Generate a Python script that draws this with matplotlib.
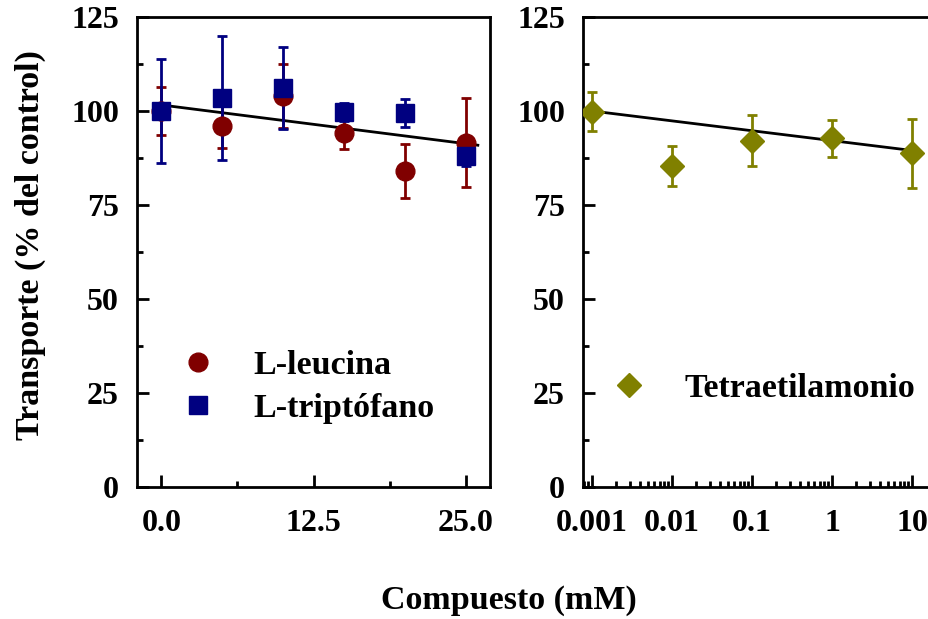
import numpy as np
import matplotlib
matplotlib.use("Agg")
import matplotlib.pyplot as plt
from matplotlib.ticker import MultipleLocator, FixedLocator, LogLocator, NullFormatter

plt.rcParams['font.family'] = ['Liberation Serif', 'DejaVu Serif']
plt.rcParams['font.weight'] = 'bold'

# amino acids (left panel)
conc_mm = [0, 5, 10, 15, 20, 25]
leu_mean = [100.0, 96.1, 104.0, 94.1, 84.0, 91.6]
leu_err = [6.5, 6.0, 8.4, 4.2, 7.2, 11.8]
trp_mean = [100.0, 103.5, 106.1, 99.8, 99.5, 88.0]
trp_err = [13.9, 16.5, 10.8, 2.4, 3.7, 2.7]
fit_left_x = [0, 26]
fit_left_y = [101.6, 90.9]

# tetraethylammonium (right panel)
tea_conc = [0.001, 0.01, 0.1, 1, 10]
tea_mean = [99.8, 85.4, 92.1, 92.7, 88.7]
tea_err = [5.2, 5.3, 6.8, 5.0, 9.1]
fit_right_x = [0.001, 10]
fit_right_y = [100.0, 89.5]

red = '#800000'
navy = '#000080'
olive = '#808000'
fs_tick = 23
fs = 24.5

fig = plt.figure(figsize=(9.29, 6.19), dpi=100)
ax1 = fig.add_axes([137 / 929, 132 / 619, 353 / 929, 470 / 619])
ax2 = fig.add_axes([583 / 929, 132 / 619, 353 / 929, 470 / 619])

eb = dict(linestyle='none', elinewidth=2, capsize=3.5, capthick=2, zorder=3)

ax1.plot(fit_left_x, fit_left_y, color='black', lw=2, zorder=2)
ax1.errorbar(conc_mm, leu_mean, yerr=leu_err, fmt='o', color=red, ms=13.5,
             label='L-leucina', **eb)
ax1.errorbar(conc_mm, trp_mean, yerr=trp_err, fmt='s', color=navy, ms=12.5,
             label='L-triptófano', **eb)

ax2.plot(fit_right_x, fit_right_y, color='black', lw=2, zorder=2)
ax2.errorbar(tea_conc, tea_mean, yerr=tea_err, fmt='D', color=olive, ms=12,
             label='Tetraetilamonio', **eb)

ax1.set_xlim(-2, 27)
ax1.xaxis.set_major_locator(FixedLocator([0, 12.5, 25]))
ax1.xaxis.set_minor_locator(FixedLocator([6.25, 18.75]))
ax1.set_xticklabels(['0.0', '12.5', '25.0'])

ax2.set_xscale('log')
ax2.set_xlim(10 ** -3.1125, 10 ** 1.3)
ax2.xaxis.set_minor_locator(LogLocator(base=10, subs=np.arange(2, 10), numticks=10))
ax2.xaxis.set_minor_formatter(NullFormatter())
ax2.set_xticks([0.001, 0.01, 0.1, 1, 10])
ax2.set_xticklabels(['0.001', '0.01', '0.1', '1', '10'])

for ax in (ax1, ax2):
    ax.set_ylim(0, 125)
    ax.yaxis.set_major_locator(MultipleLocator(25))
    ax.yaxis.set_minor_locator(MultipleLocator(12.5))
    ax.tick_params(which='both', direction='in', width=2, labelsize=fs_tick)
    ax.tick_params(which='major', length=8.5)
    ax.tick_params(which='minor', length=4.3)
    ax.tick_params(axis='y', which='major', pad=13)
    ax.tick_params(axis='x', which='major', pad=16)
    for sp in ax.spines.values():
        sp.set_linewidth(2)
    for lab in ax.get_xticklabels() + ax.get_yticklabels():
        lab.set_fontweight('bold')

ax1.set_ylabel('Transporte (% del control)', fontsize=fs, fontweight='bold')
ax1.yaxis.set_label_coords(-0.258, 0.515)
fig.text(509 / 929, 1 - 600 / 619, 'Compuesto (mM)', fontsize=fs, fontweight='bold',
         ha='center', va='center')

leg_kw = dict(frameon=False, fontsize=fs, handlelength=0.94, handletextpad=1.15,
              borderpad=0, borderaxespad=0, labelspacing=0.36, loc='upper left')
h1, l1 = ax1.get_legend_handles_labels()
leg1 = ax1.legend([h[0] for h in h1], l1, bbox_to_anchor=(0.127, 0.292), **leg_kw)
h2, l2 = ax2.get_legend_handles_labels()
leg2 = ax2.legend([h[0] for h in h2], l2, bbox_to_anchor=(0.085, 0.243), **leg_kw)
for leg in (leg1, leg2):
    for t in leg.get_texts():
        t.set_fontweight('bold')

fig.savefig('out.png', dpi=100)
